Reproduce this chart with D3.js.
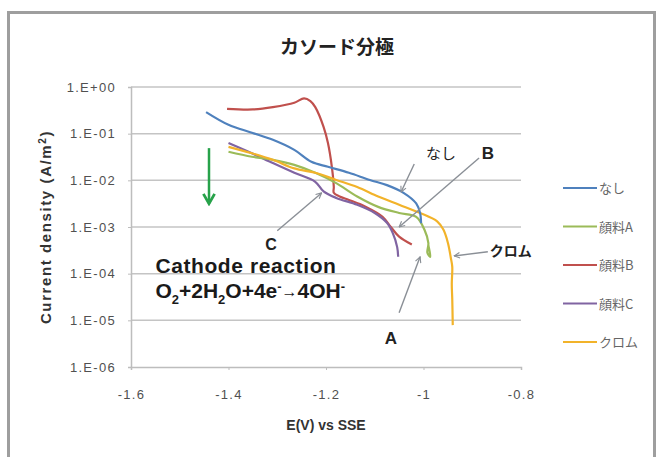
<!DOCTYPE html>
<html>
<head>
<meta charset="utf-8">
<script src="https://cdn.jsdelivr.net/npm/d3@7"></script>
<style>
  body { margin: 0; background: #fff; }
  svg { display: block; }
  .tick text { font-family: "Liberation Sans", Arial, sans-serif; font-size: 13px; letter-spacing: 1.3px; fill: #505050; }
</style>
</head>
<body>
<div id="chart"></div>
<script>
var W = 659, H = 457;

// series: [E (V vs SSE), current density (A/m2)]
var nashi = [[-1.446,0.29],[-1.40,0.155],[-1.352,0.105],[-1.309,0.074],[-1.265,0.045],[-1.23,0.025],[-1.196,0.0195],[-1.153,0.0145],[-1.11,0.0102],[-1.075,0.0079],[-1.041,0.0054],[-1.015,0.0032],[-1.007,0.002],[-1.005,0.0012]];
var pigA = [[-1.40,0.041],[-1.352,0.032],[-1.309,0.0275],[-1.265,0.0214],[-1.222,0.0145],[-1.179,0.0087],[-1.136,0.0045],[-1.093,0.0027],[-1.05,0.002],[-1.015,0.00165],[-0.998,0.00087],[-0.99,0.00045],[-0.992,0.00028],[-0.986,0.00023],[-0.99,0.0004]];
var pigB = [[-1.403,0.34],[-1.35,0.33],[-1.309,0.37],[-1.265,0.46],[-1.245,0.57],[-1.232,0.5],[-1.222,0.37],[-1.205,0.14],[-1.196,0.063],[-1.188,0.0195],[-1.184,0.0072],[-1.184,0.0054],[-1.172,0.0045],[-1.153,0.0038],[-1.118,0.0027],[-1.084,0.00166],[-1.067,0.001],[-1.05,0.00062],[-1.024,0.00042]];
var pigC = [[-1.40,0.063],[-1.352,0.038],[-1.309,0.0234],[-1.265,0.0145],[-1.222,0.0093],[-1.205,0.0058],[-1.179,0.0042],[-1.136,0.003],[-1.10,0.002],[-1.075,0.00123],[-1.063,0.00074],[-1.054,0.00037],[-1.052,0.00023]];
var chrome = [[-1.40,0.052],[-1.352,0.038],[-1.309,0.0275],[-1.265,0.018],[-1.222,0.0145],[-1.179,0.0102],[-1.136,0.0072],[-1.093,0.0045],[-1.05,0.003],[-1.007,0.002],[-0.972,0.00132],[-0.959,0.00087],[-0.95,0.00046],[-0.944,0.00022],[-0.941,0.00014],[-0.942,0.00006],[-0.941,0.000028],[-0.94,0.0000079]];

var seriesNames = ["なし", "顔料A", "顔料B", "顔料C", "クロム"];
var seriesData = [nashi, pigA, pigB, pigC, chrome];
var seriesColors = ["#4f81bd", "#9bbb59", "#c0504d", "#8064a2", "#f2b32a"];
var drawOrder = [2, 3, 1, 4, 0];

var xTicks = [-1.6, -1.4, -1.2, -1, -0.8];
var yTicks = [1, 1e-1, 1e-2, 1e-3, 1e-4, 1e-5, 1e-6];

// annotation labels: [text, E, current]
var labels = [["C", -1.313, 10**-3.37], ["なし", -0.964, 10**-1.41], ["B", -0.868, 10**-1.41], ["A", -1.067, 10**-5.37], ["クロム", -0.864, 10**-3.49]];
// annotation pointers: [[E, I], [E, I]] from -> to
var pointers = [
  [[-1.30, 10**-3.08], [-1.209, 10**-2.27]],
  [[-1.019, 10**-1.65], [-1.046, 10**-2.25]],
  [[-0.886, 10**-1.52], [-1.050, 10**-3.0]],
  [[-1.05, 10**-4.84], [-1.007, 10**-3.64]],
  [[-0.868, 10**-3.53], [-0.937, 10**-3.62]]
];

var m = {left: 131, right: 138, top: 87, bottom: 90};

var svg = d3.select("#chart").append("svg")
    .attr("width", W)
    .attr("height", H);

svg.append("rect")
    .attr("x", 8.5).attr("y", 12.5)
    .attr("width", 646).attr("height", 460)
    .attr("fill", "#fff")
    .attr("stroke", "#9e9e9e")
    .attr("stroke-width", 3);

var defs = svg.append("defs");
defs.append("marker")
    .attr("id", "gray-head")
    .attr("viewBox", "0 0 10 10")
    .attr("refX", 9).attr("refY", 5)
    .attr("markerWidth", 7).attr("markerHeight", 7)
    .attr("markerUnits", "userSpaceOnUse")
    .attr("orient", "auto")
  .append("path")
    .attr("d", "M1,1 L9,5 L1,9")
    .attr("fill", "none")
    .attr("stroke", "#8a8f96")
    .attr("stroke-width", 1.6);
defs.append("marker")
    .attr("id", "green-head")
    .attr("viewBox", "0 0 10 10")
    .attr("refX", 8).attr("refY", 5)
    .attr("markerWidth", 14).attr("markerHeight", 14)
    .attr("markerUnits", "userSpaceOnUse")
    .attr("orient", "auto")
  .append("path")
    .attr("d", "M1,1 L8,5 L1,9")
    .attr("fill", "none")
    .attr("stroke", "#27a24a")
    .attr("stroke-width", 2);

var x = d3.scaleLinear().domain([-1.6, -0.8]).range([m.left, W - m.right]);
var y = d3.scaleLog().domain([1e-6, 1]).range([H - m.bottom, m.top]);

function fmtE(d) {
  var e = Math.round(Math.log10(d));
  return "1.E" + (e >= 0 ? "+" : "-") + String(Math.abs(e)).padStart(2, "0");
}

// gridlines
svg.append("g")
  .selectAll("line")
  .data(yTicks.slice(0, -1))
  .join("line")
    .attr("x1", x(-1.6)).attr("x2", x(-0.8))
    .attr("y1", d => y(d)).attr("y2", d => y(d))
    .attr("stroke", "#c4c4c4")
    .attr("stroke-width", 1.5);

var yAxis = svg.append("g")
    .attr("transform", "translate(" + x(-1.6) + ",0)")
    .call(d3.axisLeft(y).tickValues(yTicks).tickFormat(fmtE).tickSize(3).tickPadding(12));
var xAxis = svg.append("g")
    .attr("transform", "translate(0," + y(1e-6) + ")")
    .call(d3.axisBottom(x).tickValues(xTicks).tickFormat(d => String(d)).tickSize(3).tickPadding(20));
[xAxis, yAxis].forEach(function(a) {
  a.select(".domain").attr("stroke", "#bdbdbd").attr("stroke-width", 1.5);
  a.selectAll(".tick line").attr("stroke", "#bdbdbd");
});

var line = d3.line()
    .x(d => x(d[0]))
    .y(d => y(d[1]))
    .curve(d3.curveCatmullRom.alpha(0.5));

svg.append("g")
  .selectAll("path")
  .data(drawOrder)
  .join("path")
    .attr("d", i => line(seriesData[i]))
    .attr("fill", "none")
    .attr("stroke", i => seriesColors[i])
    .attr("stroke-width", 2.2)
    .attr("stroke-linejoin", "round");

// title and axis titles
svg.append("text")
    .attr("x", 337).attr("y", 54)
    .attr("text-anchor", "middle")
    .style("font-family", "'Noto Sans CJK JP', sans-serif")
    .style("font-size", "19px")
    .style("font-weight", "bold")
    .attr("fill", "#222")
    .text("カソード分極");

svg.append("text")
    .attr("x", (x(-1.6) + x(-0.8)) / 2).attr("y", 430)
    .attr("text-anchor", "middle")
    .style("font-family", "'Liberation Sans', sans-serif")
    .style("font-size", "14px")
    .style("font-weight", "bold")
    .attr("fill", "#333")
    .text("E(V) vs SSE");

var yt = svg.append("text")
    .attr("transform", "translate(51," + (y(1e-6) + y(1)) / 2 + ") rotate(-90)")
    .attr("text-anchor", "middle")
    .style("font-family", "'Liberation Sans', sans-serif")
    .style("font-size", "15px")
    .style("font-weight", "bold")
    .style("letter-spacing", "1.6px")
    .attr("fill", "#333");
yt.append("tspan").text("Current density (A/m");
yt.append("tspan").attr("dy", -5).style("font-size", "10px").text("2");
yt.append("tspan").attr("dy", 5).text(")");

// legend
var leg = svg.append("g")
  .selectAll("g")
  .data(seriesNames)
  .join("g")
    .attr("transform", (d, i) => "translate(563," + (188 + i * 38.5) + ")");
leg.append("line")
    .attr("x1", 0).attr("x2", 34)
    .attr("stroke", (d, i) => seriesColors[i])
    .attr("stroke-width", 2.2);
leg.append("text")
    .attr("x", 36).attr("y", 5)
    .style("font-family", "'Noto Sans CJK JP', sans-serif")
    .style("font-size", "13px")
    .attr("fill", "#666")
    .text(d => d);

// annotations
svg.append("g")
  .selectAll("line")
  .data(pointers)
  .join("line")
    .attr("x1", d => x(d[0][0])).attr("y1", d => y(d[0][1]))
    .attr("x2", d => x(d[1][0])).attr("y2", d => y(d[1][1]))
    .attr("stroke", "#8a8f96")
    .attr("stroke-width", 1.4)
    .attr("marker-end", "url(#gray-head)");

svg.append("g")
  .selectAll("text")
  .data(labels)
  .join("text")
    .attr("x", d => x(d[1])).attr("y", d => y(d[2]) + 6)
    .attr("text-anchor", d => d[0] === "クロム" ? "start" : "middle")
    .style("font-family", d => /[A-Z]/.test(d[0]) ? "'Liberation Sans', sans-serif" : "'Noto Sans CJK JP', sans-serif")
    .style("font-size", d => d[0] === "クロム" ? "14px" : (d[0] === "なし" ? "15px" : (d[0] === "C" ? "16px" : "17px")))
    .style("font-weight", d => d[0] === "なし" ? "normal" : "bold")
    .attr("fill", "#222")
    .text(d => d[0]);

svg.append("line")
    .attr("x1", x(-1.44)).attr("y1", y(10 ** -1.31))
    .attr("x2", x(-1.44)).attr("y2", y(10 ** -2.5))
    .attr("stroke", "#27a24a")
    .attr("stroke-width", 2.5)
    .attr("marker-end", "url(#green-head)");

var rx = x(-1.55);
svg.append("text")
    .attr("x", rx).attr("y", y(10 ** -3.98))
    .style("font-family", "'Liberation Sans', Arial, sans-serif")
    .style("font-size", "21px")
    .style("font-weight", "bold")
    .style("letter-spacing", "0.6px")
    .attr("fill", "#1a1a1a")
    .text("Cathode reaction");

var r2 = svg.append("text")
    .attr("x", rx).attr("y", y(10 ** -4.52))
    .style("font-family", "'Liberation Sans', Arial, sans-serif")
    .style("font-size", "21px")
    .style("font-weight", "bold")
    .attr("fill", "#1a1a1a");
// [text, level]: 0 normal, 1 subscript, -1 superscript, 2 arrow
var parts = [["O", 0], ["2", 1], ["+2H", 0], ["2", 1], ["O+4e", 0], ["-", -1], ["→", 2], ["4OH", 0], ["-", -1]];
var offs = {"0": 0, "1": 6, "-1": -7, "2": -1};
var base = 0;
parts.forEach(function(p) {
  var off = offs[p[1]];
  r2.append("tspan")
      .attr("dy", off - base)
      .style("font-size", p[1] === 0 ? "21px" : (p[1] === 2 ? "16px" : "13px"))
      .style("font-weight", p[1] === 2 ? "normal" : "bold")
      .text(p[0]);
  base = off;
});
</script>
</body>
</html>
